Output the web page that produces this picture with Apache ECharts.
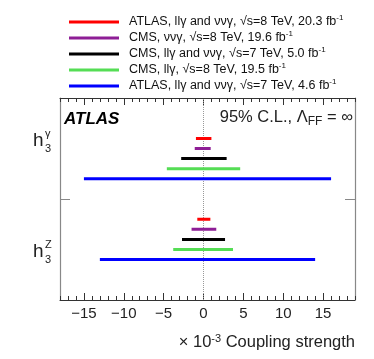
<!DOCTYPE html>
<html>
<head>
<meta charset="utf-8">
<script src="https://cdn.jsdelivr.net/npm/echarts@6/dist/echarts.min.js"></script>
<style>
  html, body { margin: 0; padding: 0; background: #fff; }
  #chart { width: 374px; height: 359px; }
</style>
</head>
<body>
<div id="chart"></div>
<script>
// measurements, in units of 1e-3
const experiments = [
  'ATLAS, llγ and ννγ, √s=8 TeV, 20.3 fb⁻¹',
  'CMS, ννγ, √s=8 TeV, 19.6 fb⁻¹',
  'CMS, llγ and ννγ, √s=7 TeV, 5.0 fb⁻¹',
  'CMS, llγ, √s=8 TeV, 19.5 fb⁻¹',
  'ATLAS, llγ and ννγ, √s=7 TeV, 4.6 fb⁻¹'
]
const colors = ['#ff0000', '#8e1e96', '#000000', '#55dd55', '#0000ff']
const h3gammaLow = [-0.95, -1.1, -2.8, -4.6, -15]
const h3gammaHigh = [0.99, 0.9, 2.9, 4.6, 16]
const h3zLow = [-0.78, -1.5, -2.7, -3.8, -13]
const h3zHigh = [0.86, 1.6, 2.7, 3.7, 14]
const majorTicks = [-15, -10, -5, 0, 5, 10, 15]

const font = '"Liberation Sans", Arial, sans-serif'
const chart = echarts.init(document.getElementById('chart'))

const series = experiments.map((name, i) => ({
  name: name,
  type: 'line',
  xAxisIndex: 0,
  yAxisIndex: 0,
  symbol: 'none',
  silent: true,
  z: 3,
  color: colors[i],
  lineStyle: { color: colors[i], width: 3 },
  data: [
    [h3gammaLow[i], 16 - i], [h3gammaHigh[i], 16 - i], '-',
    [h3zLow[i], 8 - i], [h3zHigh[i], 8 - i]
  ],
  markLine: i === 0 ? {
    silent: true,
    symbol: 'none',
    z: 1,
    label: { show: false },
    lineStyle: { type: 'dotted', color: '#999', width: 1 },
    data: [{ xAxis: 0 }]
  } : undefined
}))

function xAx(position, major) {
  return {
    type: 'value',
    position: position,
    min: -18,
    max: 19,
    interval: major ? undefined : 1,
    splitLine: { show: false },
    axisLine: { show: major, onZero: false, lineStyle: { color: '#333', width: 1 } },
    axisTick: major
      ? { show: true, inside: true, length: 7, customValues: majorTicks, lineStyle: { color: '#333' } }
      : { show: true, inside: true, length: 4, lineStyle: { color: '#333' } },
    axisLabel: major && position === 'bottom'
      ? {
          show: true, customValues: majorTicks, margin: 6,
          fontFamily: font, fontSize: 15, color: '#222',
          formatter: v => (v < 0 ? '\u2212' + Math.abs(v) : '' + v)
        }
      : { show: false }
  }
}

function yAx(position) {
  return {
    type: 'value',
    position: position,
    min: 0,
    max: 20,
    splitLine: { show: false },
    axisLine: { show: true, onZero: false, lineStyle: { color: '#888', width: 1.2 } },
    axisTick: { show: true, inside: true, length: 10, customValues: [10], lineStyle: { color: '#888' } },
    axisLabel: { show: false }
  }
}

chart.setOption({
  animation: false,
  grid: { left: 60, right: 19, top: 98, bottom: 59 },
  legend: {
    orient: 'vertical',
    left: 64,
    top: 9,
    icon: 'rect',
    itemWidth: 50,
    itemHeight: 3,
    itemGap: 0,
    selectedMode: false,
    data: experiments,
    formatter: name => name.replace('⁻¹', '{sup|-1}'),
    textStyle: {
      fontFamily: font,
      fontSize: 12.5,
      color: '#111',
      lineHeight: 16,
      padding: [0, 0, 0, 5],
      rich: {
        sup: { fontFamily: font, fontSize: 8, lineHeight: 10, verticalAlign: 'top', padding: [0, 0, 6, 0] }
      }
    }
  },
  xAxis: [xAx('bottom', true), xAx('bottom', false), xAx('top', true), xAx('top', false)],
  yAxis: [yAx('left'), yAx('right')],
  graphic: [
    {
      type: 'text', left: 64, top: 111,
      style: { text: 'ATLAS', font: 'italic bold 17px ' + font, fill: '#000' }
    },
    {
      type: 'text', right: 21, top: 109,
      style: {
        text: '95% C.L., Λ{sub|FF} = ∞',
        font: '16.5px ' + font, fill: '#222',
        rich: { sub: { fontFamily: font, fontSize: 12, verticalAlign: 'bottom', padding: [9, 0, 0, 0] } }
      }
    },
    {
      type: 'text', right: 19, top: 333,
      style: {
        text: '× 10{sup|-3} Coupling strength',
        font: '16.5px ' + font, fill: '#222',
        rich: { sup: { fontFamily: font, fontSize: 11, verticalAlign: 'top', padding: [0, 0, 7, 0] } }
      }
    },
    { type: 'text', left: 33, top: 131, style: { text: 'h', font: '19px ' + font, fill: '#222' } },
    { type: 'text', left: 45, top: 128, style: { text: 'γ', font: '11px ' + font, fill: '#222' } },
    { type: 'text', left: 45, top: 143, style: { text: '3', font: '11px ' + font, fill: '#222' } },
    { type: 'text', left: 33, top: 242, style: { text: 'h', font: '19px ' + font, fill: '#222' } },
    { type: 'text', left: 45, top: 239, style: { text: 'Z', font: '11px ' + font, fill: '#222' } },
    { type: 'text', left: 45, top: 254, style: { text: '3', font: '11px ' + font, fill: '#222' } }
  ],
  series: series
})
</script>
</body>
</html>
